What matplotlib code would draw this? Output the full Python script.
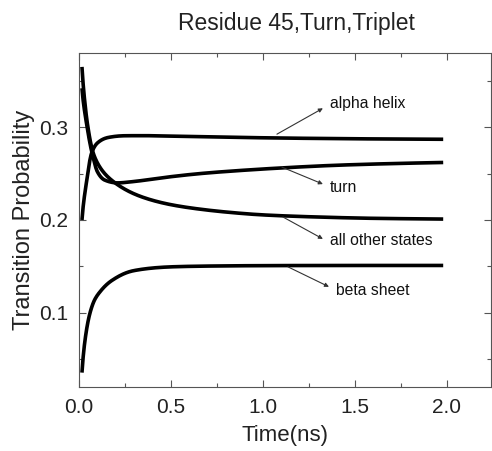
import numpy as np
import matplotlib
matplotlib.use("Agg")
import matplotlib.pyplot as plt
from matplotlib.ticker import MultipleLocator

plt.rcParams['font.family'] = ['Liberation Sans', 'DejaVu Sans']

# values
t_alpha = [0.016, 0.04, 0.07, 0.10, 0.16, 0.25, 0.35, 0.5, 0.685, 0.82, 1.0, 1.3, 1.6, 1.98]
p_alpha = [0.200, 0.240, 0.273, 0.283, 0.289, 0.2908, 0.2909, 0.2904, 0.2897, 0.2892, 0.2886, 0.2879, 0.2874, 0.287]

t_turn = [0.016, 0.04, 0.076, 0.10, 0.14, 0.21, 0.30, 0.45, 0.685, 0.85, 1.09, 1.4, 1.7, 1.98]
p_turn = [0.342, 0.305, 0.268, 0.252, 0.243, 0.2400, 0.2415, 0.2455, 0.2505, 0.2530, 0.2560, 0.2590, 0.2608, 0.262]

t_other = [0.016, 0.03, 0.05, 0.076, 0.12, 0.196, 0.34, 0.5, 0.685, 0.82, 1.0, 1.3, 1.6, 1.98]
p_other = [0.365, 0.330, 0.298, 0.273, 0.255, 0.240, 0.225, 0.2165, 0.211, 0.2082, 0.2055, 0.2032, 0.2018, 0.201]

t_beta = [0.016, 0.033, 0.06, 0.085, 0.114, 0.18, 0.30, 0.5, 0.685, 1.0, 1.5, 1.98]
p_beta = [0.0355, 0.071, 0.100, 0.114, 0.1226, 0.135, 0.1455, 0.1495, 0.1503, 0.1508, 0.151, 0.151]

labels = ['alpha helix', 'turn', 'all other states', 'beta sheet']
arrow_tails = [(1.076, 0.2925), (1.103, 0.257), (1.109, 0.2032), (1.136, 0.1495)]
arrow_heads = [(1.326, 0.3204), (1.326, 0.2387), (1.326, 0.1796), (1.359, 0.128)]
text_pos = [(1.364, 0.3258), (1.364, 0.2355), (1.364, 0.1774), (1.397, 0.1237)]


def pchip(x, y, xn):
    # monotone cubic through the read points so the curves stay smooth
    x = np.asarray(x, float)
    y = np.asarray(y, float)
    h = np.diff(x)
    d = np.diff(y) / h
    m = np.zeros_like(y)
    for k in range(1, len(x) - 1):
        if d[k - 1] * d[k] > 0:
            w1 = 2 * h[k] + h[k - 1]
            w2 = h[k] + 2 * h[k - 1]
            m[k] = (w1 + w2) / (w1 / d[k - 1] + w2 / d[k])
    m[0] = d[0]
    m[-1] = d[-1]
    idx = np.clip(np.searchsorted(x, xn) - 1, 0, len(x) - 2)
    s = (xn - x[idx]) / h[idx]
    h00 = 2 * s**3 - 3 * s**2 + 1
    h10 = s**3 - 2 * s**2 + s
    h01 = -2 * s**3 + 3 * s**2
    h11 = s**3 - s**2
    return h00 * y[idx] + h10 * h[idx] * m[idx] + h01 * y[idx + 1] + h11 * h[idx] * m[idx + 1]


fig = plt.figure(figsize=(4.92, 4.51), dpi=100)
ax = fig.add_axes([0.1606, 0.1419, 0.8374, 0.7406])

for t, p in [(t_alpha, p_alpha), (t_turn, p_turn), (t_other, p_other), (t_beta, p_beta)]:
    tt = np.linspace(t[0], t[-1], 600)
    ax.plot(tt, pchip(np.log(t), p, np.log(tt)), color='black', lw=2.6,
            solid_capstyle='butt')

for lab, tail, head, tp in zip(labels, arrow_tails, arrow_heads, text_pos):
    ax.annotate('', xy=head, xytext=tail,
                arrowprops=dict(arrowstyle='-|>', color='#333333', lw=0.8,
                                mutation_scale=6, shrinkA=0, shrinkB=0))
    ax.text(tp[0], tp[1], lab, fontsize=11.3, va='center', ha='left', color='#111111')

ax.set_xlim(0, 2.24)
ax.set_ylim(0.02, 0.38)
ax.xaxis.set_major_locator(MultipleLocator(0.5))
ax.xaxis.set_minor_locator(MultipleLocator(0.25))
ax.yaxis.set_major_locator(MultipleLocator(0.1))
ax.yaxis.set_minor_locator(MultipleLocator(0.05))
ax.xaxis.set_major_formatter(plt.FuncFormatter(lambda v, _: f'{v:.1f}'))
ax.yaxis.set_major_formatter(plt.FuncFormatter(lambda v, _: f'{v:.1f}'))
ax.tick_params(which='both', direction='in', top=True, right=True,
               colors='#555555', labelcolor='#222222', labelsize=15, width=0.8)
ax.tick_params(which='major', length=5, pad=8)
ax.tick_params(which='minor', length=3)
for s in ax.spines.values():
    s.set_color('#555555')
    s.set_linewidth(0.8)

ax.set_xlabel('Time(ns)', fontsize=16, color='#222222', labelpad=6)
ax.set_ylabel('Transition Probability', fontsize=17, color='#222222', labelpad=3)
fig.text(0.602, 0.948, 'Residue 45,Turn,Triplet', fontsize=16.5, ha='center', va='center',
         color='#222222')

fig.savefig('out.png', dpi=100)
